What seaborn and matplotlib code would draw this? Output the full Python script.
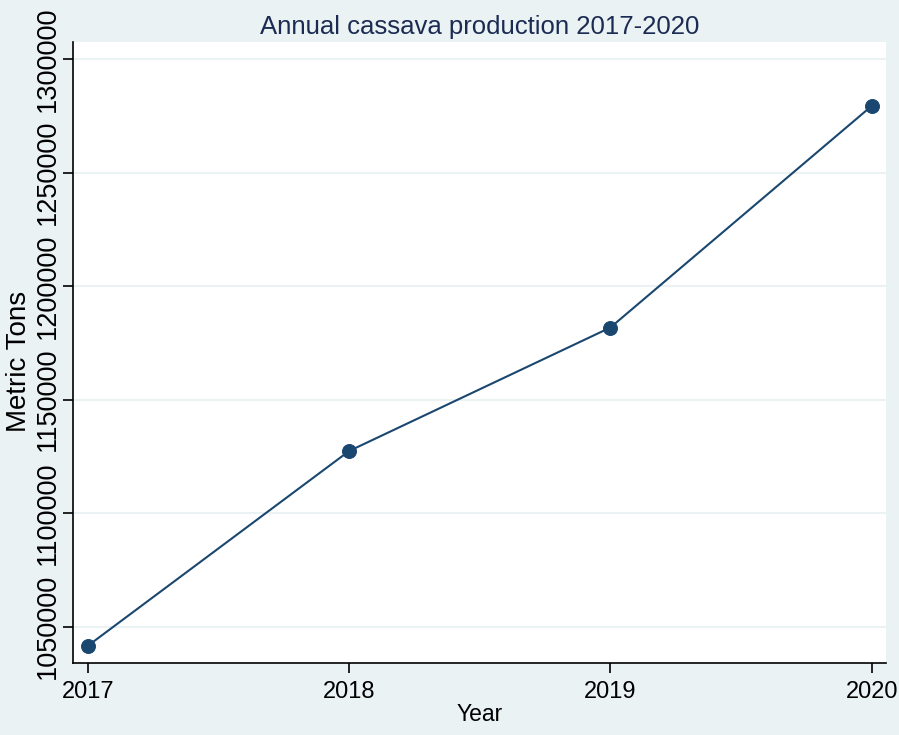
import seaborn as sns
import matplotlib.pyplot as plt
import pandas as pd

years = [2017, 2018, 2019, 2020]
production = [1041600, 1127400, 1181800, 1279400]
y_ticks = [1050000, 1100000, 1150000, 1200000, 1250000, 1300000]

df = pd.DataFrame({"Year": years, "Metric Tons": production})

bg = "#EAF2F3"
navy = "#1A476F"

sns.set_style("white")
plt.rcParams['font.family'] = ['Liberation Sans', 'DejaVu Sans']

fig = plt.figure(figsize=(8.99, 7.35), dpi=100, facecolor=bg)
ax = fig.add_axes([73/899, 1 - 663/735, (886 - 73)/899, (663 - 42)/735])
ax.set_facecolor("white")

sns.lineplot(data=df, x="Year", y="Metric Tons", ax=ax, color=navy,
             linewidth=1.5, marker="o", markersize=10, markeredgecolor=navy)

ax.set_xlim(2016.943, 2020.055)
ax.set_ylim(1034000, 1307600)
ax.set_xticks(years)
ax.set_yticks(y_ticks)
ax.set_yticklabels([str(v) for v in y_ticks], rotation=90, va="center")
ax.grid(axis="y", color=bg, linewidth=1.5)
ax.grid(axis="x", visible=False)

for s in ["top", "right"]:
    ax.spines[s].set_visible(False)
for s in ["left", "bottom"]:
    ax.spines[s].set_color("black")
    ax.spines[s].set_linewidth(1.2)

ax.tick_params(axis="both", direction="out", length=7, width=1.2,
               colors="black", bottom=True, left=True)
ax.tick_params(axis="x", labelsize=17, pad=6)
ax.tick_params(axis="y", labelsize=19.5, pad=2)

ax.set_xlabel("Year", fontsize=16.5, labelpad=0, color="black")
ax.set_ylabel("Metric Tons", fontsize=20, va="center", color="black")
ax.yaxis.set_label_coords(-0.066, 0.486)
ax.set_title("Annual cassava production 2017-2020", fontsize=18.5,
             color="#1C2B52", pad=6)

fig.savefig("out.png", dpi=100, facecolor=bg)
